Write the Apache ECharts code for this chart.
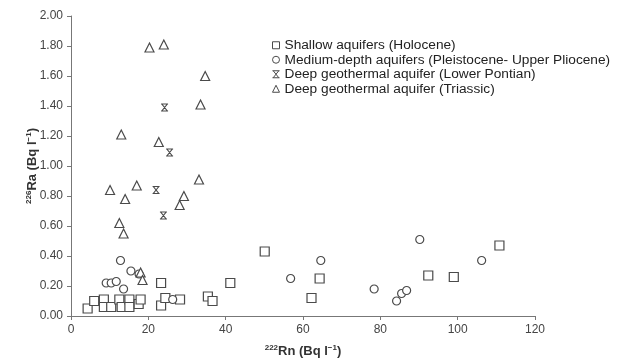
<!DOCTYPE html>
<html>
<head>
<meta charset="utf-8">
<script src="https://cdn.jsdelivr.net/npm/echarts@6/dist/echarts.min.js"></script>
<style>
  html, body { margin: 0; padding: 0; background: #fff; }
  #chart { width: 621px; height: 358px; }
</style>
</head>
<body>
<div id="chart"></div>
<script>
// [Rn, Ra] pairs
const shallow = [
  [4.3, 0.05], [6.0, 0.10], [8.5, 0.11], [8.5, 0.06], [10.4, 0.06],
  [12.5, 0.11], [13.1, 0.06], [15.1, 0.11], [15.1, 0.06], [17.5, 0.08],
  [18.0, 0.11], [23.3, 0.22], [23.3, 0.07], [24.4, 0.12], [28.2, 0.11],
  [35.4, 0.13], [36.6, 0.10], [41.2, 0.22], [50.1, 0.43], [62.2, 0.12],
  [64.3, 0.25], [92.4, 0.27], [99.0, 0.26], [110.8, 0.47]
];
const medium = [
  [9.1, 0.22], [10.4, 0.22], [11.7, 0.23], [12.8, 0.37], [13.6, 0.18],
  [15.5, 0.30], [17.6, 0.28], [26.3, 0.11], [56.8, 0.25], [64.6, 0.37],
  [78.4, 0.18], [84.2, 0.10], [85.5, 0.15], [86.8, 0.17], [90.2, 0.51],
  [106.2, 0.37]
];
const pontian = [
  [24.2, 1.39], [25.5, 1.09], [22.0, 0.84], [23.9, 0.67]
];
const triassic = [
  [20.3, 1.79], [24.0, 1.81], [34.7, 1.60], [33.5, 1.41], [13.0, 1.21],
  [22.7, 1.16], [33.1, 0.91], [10.1, 0.84], [17.0, 0.87], [14.0, 0.78],
  [29.2, 0.80], [28.1, 0.74], [12.5, 0.62], [13.6, 0.55], [18.0, 0.29],
  [18.5, 0.24]
];
const seriesNames = [
  'Shallow aquifers (Holocene)',
  'Medium-depth aquifers (Pleistocene- Upper Pliocene)',
  'Deep geothermal aquifer (Lower Pontian)',
  'Deep geothermal aquifer (Triassic)'
];

const crossPath = 'path://M0,0L10,0M0,10L10,10M1,0L9,10M9,0L1,10';
const edge = '#4a4a4a';
const font = 'Liberation Sans, Arial, sans-serif';

function scatter(name, data, symbol, size) {
  return {
    name: name,
    type: 'scatter',
    data: data,
    symbol: symbol,
    symbolSize: size,
    itemStyle: { color: '#fff', borderColor: edge, borderWidth: 1.2, opacity: 1 },
    emphasis: { disabled: true }
  };
}

const nameRich = {
  b: { fontSize: 13, fontWeight: 'bold', color: '#333' },
  sup: { fontSize: 8, fontWeight: 'bold', color: '#333', verticalAlign: 'top', padding: [0, 0, 7, 0] }
};

const chart = echarts.init(document.getElementById('chart'));
chart.setOption({
  animation: false,
  textStyle: { fontFamily: font },
  grid: { left: 71, right: 86, top: 16, bottom: 42, containLabel: false, outerBoundsMode: 'none' },
  legend: {
    orient: 'vertical',
    left: 267,
    top: 33,
    itemWidth: 7,
    itemHeight: 7,
    itemGap: 0,
    textStyle: { fontSize: 13.7, lineHeight: 14.5, color: '#222', fontFamily: font },
    data: seriesNames.map((n, i) => ({
      name: n,
      icon: ['rect', 'circle', crossPath, 'triangle'][i],
      itemStyle: { color: '#fff', borderColor: edge, borderWidth: 1 }
    }))
  },
  xAxis: {
    type: 'value',
    min: 0,
    max: 120,
    interval: 20,
    splitLine: { show: false },
    axisLine: { lineStyle: { color: '#777' } },
    axisTick: { lineStyle: { color: '#777' }, length: 4 },
    axisLabel: { color: '#444', fontSize: 12, margin: 8 },
    name: '{sup|222}{b|Rn (Bq l}{sup|−1}{b|)}',
    nameLocation: 'middle',
    nameGap: 28,
    nameMoveOverlap: false,
    nameTextStyle: { rich: nameRich }
  },
  yAxis: {
    type: 'value',
    min: 0,
    max: 2,
    interval: 0.2,
    splitLine: { show: false },
    axisLine: { show: true, lineStyle: { color: '#777' } },
    axisTick: { show: true, lineStyle: { color: '#777' }, length: 4 },
    axisLabel: { color: '#444', fontSize: 12, margin: 8, formatter: v => v.toFixed(2) },
    name: '{sup|226}{b|Ra (Bq l}{sup|−1}{b|)}',
    nameLocation: 'middle',
    nameRotate: 90,
    nameGap: 31,
    nameMoveOverlap: false,
    nameTextStyle: { rich: nameRich }
  },
  series: [
    scatter(seriesNames[0], shallow, 'rect', 9),
    scatter(seriesNames[1], medium, 'circle', 8),
    scatter(seriesNames[2], pontian, crossPath, 7),
    scatter(seriesNames[3], triassic, 'triangle', 9)
  ]
});
</script>
</body>
</html>
